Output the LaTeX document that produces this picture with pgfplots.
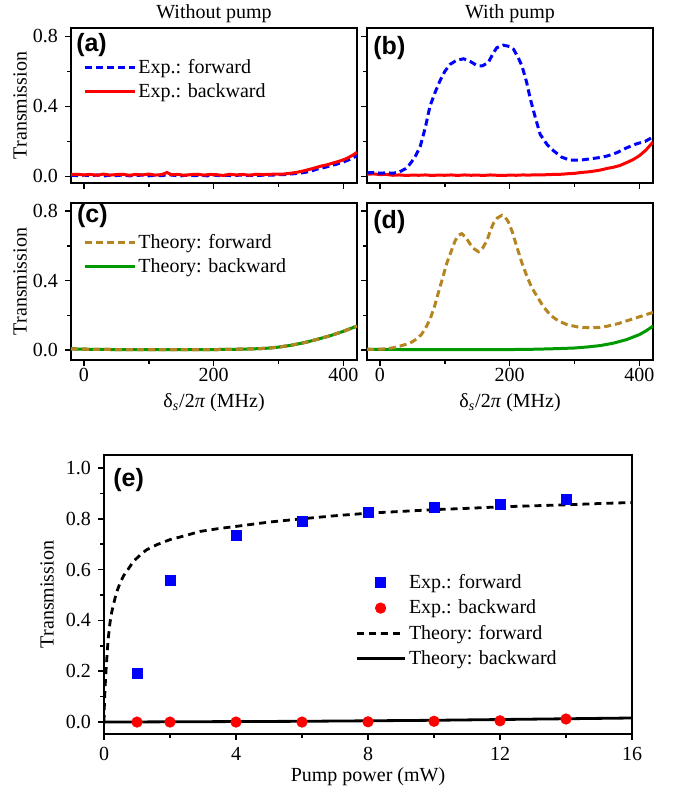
\documentclass[border=0pt]{standalone}
\usepackage{fontspec}
\setmainfont{Liberation Serif}
\setsansfont{Liberation Sans}
\usepackage{pgfplots}
\pgfplotsset{compat=1.18}
\definecolor{cblue}{rgb}{0,0,1}
\definecolor{cred}{rgb}{1,0,0}
\definecolor{cbrown}{RGB}{181,133,34}
\definecolor{cgreen}{RGB}{0,153,0}
\pgfplotsset{
  panel/.style={
    scale only axis, anchor=north west,
    axis line style={line width=0.9pt},
    tick style={line width=0.8pt, black},
    tick align=outside, xtick pos=bottom, ytick pos=left,
    major tick length=3pt, minor tick length=2pt,
    tick label style={font=\fontsize{10}{12}\selectfont},
    label style={font=\fontsize{10}{12}\selectfont},
    /pgf/number format/assume math mode=true,
    yticklabel style={/pgf/number format/.cd, fixed, fixed zerofill, precision=1},
    legend cell align=left,
    legend style={draw=none, fill=none, inner sep=0pt, font=\fontsize{10}{12}\selectfont,
      row sep=1.5pt, nodes={inner sep=1pt}},
    legend image code/.code={\draw[mark repeat=2,mark phase=2,#1] plot coordinates {(0pt,0pt) (12.5pt,0pt) (25pt,0pt)};},
  },
  small/.style={panel, width=143pt,
    xmin=-20, xmax=421, xtick={0,200,400}, minor xtick={100,300},
    ytick={0,0.4,0.8}, minor ytick={0.2,0.6},
    xticklabel style={yshift=2.5pt},
    xlabel style={at={(axis description cs:0.5,0)}, anchor=center, yshift=-21.5pt},
    ylabel style={at={(axis description cs:-0.178,0.5)}, anchor=center},
    every axis title/.style={at={(axis description cs:0.5,1)}, anchor=center, yshift=7pt, font=\fontsize{10}{12}\selectfont},
  },
  dsh/.style={line width=1.5pt, dash pattern=on 3.5pt off 2pt},
  sol/.style={line width=1.5pt},
}
\newcommand{\plab}[2]{\node[anchor=west, inner sep=0pt, font=\sffamily\bfseries\fontsize{12.5}{13}\selectfont] at (rel axis cs:#1) {#2};}
\newcommand{\dlab}{δ\textsubscript{\textit{s}}/2\textit{π} (MHz)}
\begin{document}
\begin{tikzpicture}
\useasboundingbox (0,0) rectangle (339pt,-398pt);
% (a)
\begin{axis}[small, at={(35.5pt,-14pt)}, height=77.5pt, ymin=-0.038, ymax=0.848,
  xticklabels={}, ylabel={Transmission}, title={Without pump},
  legend style={at={(axis description cs:0.042,0.815)}, anchor=north west}]
\addplot[cblue, dsh] coordinates {(-20,0.006) (-10,0.004) (0,0.007) (10,0.003) (20,0.008) (30,0.002) (40,0.006) (50,0.004) (60,0.008) (70,0.003) (80,0.005) (90,0.007) (100,0.003) (110,0.006) (120,0.004) (130,0.010) (140,0.005) (150,0.003) (160,0.007) (170,0.004) (180,0.006) (190,0.003) (200,0.007) (210,0.004) (220,0.006) (230,0.003) (240,0.007) (250,0.005) (260,0.006) (270,0.005) (280,0.008) (290,0.007) (300,0.009) (310,0.010) (320,0.014) (330,0.017) (340,0.022) (350,0.030) (360,0.042) (370,0.050) (380,0.060) (390,0.070) (400,0.082) (410,0.097) (421,0.118)};
\addlegendentry{Exp.: forward}
\addplot[cred, sol] coordinates {(-20,0.010) (-10,0.012) (0,0.008) (10,0.011) (20,0.006) (30,0.013) (40,0.007) (50,0.010) (60,0.012) (70,0.006) (80,0.011) (90,0.008) (100,0.013) (110,0.007) (120,0.010) (128,0.022) (135,0.009) (145,0.011) (155,0.006) (165,0.010) (175,0.012) (185,0.007) (195,0.011) (205,0.009) (215,0.005) (225,0.012) (235,0.008) (245,0.011) (255,0.006) (265,0.012) (275,0.010) (285,0.011) (295,0.013) (305,0.012) (315,0.016) (325,0.021) (335,0.028) (345,0.037) (355,0.047) (365,0.058) (375,0.066) (385,0.077) (395,0.088) (405,0.102) (415,0.122) (421,0.138)};
\addlegendentry{Exp.: backward}
\plab{0.017,0.89}{(a)}
\end{axis}
% (b)
\begin{axis}[small, at={(183.5pt,-14pt)}, height=77.5pt, ymin=-0.038, ymax=0.848,
  xticklabels={}, yticklabels={}, title={With pump}]
\addplot[cred, sol] coordinates {(-20,0.012) (-10,0.014) (0,0.010) (10,0.011) (20,0.006) (30,0.008) (40,0.005) (50,0.007) (60,0.006) (70,0.008) (80,0.005) (90,0.007) (100,0.006) (110,0.008) (120,0.005) (130,0.008) (140,0.006) (150,0.007) (160,0.005) (170,0.008) (180,0.006) (190,0.005) (200,0.007) (210,0.006) (220,0.008) (230,0.007) (240,0.009) (250,0.008) (260,0.010) (270,0.011) (280,0.012) (290,0.015) (300,0.017) (310,0.022) (320,0.025) (330,0.030) (340,0.036) (350,0.045) (360,0.052) (370,0.062) (380,0.078) (390,0.095) (400,0.118) (410,0.150) (421,0.196)};
\addplot[cblue, dsh] coordinates {(-20,0.020) (-10,0.022) (0,0.018) (10,0.020) (20,0.018) (30,0.025) (40,0.045) (46,0.069) (54,0.11) (62,0.17) (70,0.28) (77,0.40) (85,0.48) (93,0.55) (100,0.60) (108,0.64) (118,0.663) (129,0.672) (140,0.655) (150,0.632) (158,0.632) (167,0.65) (174,0.70) (180,0.735) (190,0.75) (200,0.742) (206,0.726) (213,0.68) (219,0.63) (226,0.54) (232,0.44) (240,0.33) (247,0.24) (258,0.18) (268,0.145) (280,0.11) (293,0.092) (310,0.093) (324,0.10) (340,0.108) (350,0.116) (365,0.135) (381,0.164) (395,0.185) (409,0.2) (421,0.225)};
\plab{0.021,0.87}{(b)}
\end{axis}
% (c)
\begin{axis}[small, at={(35.5pt,-101.5pt)}, height=78.5pt, ymin=-0.057, ymax=0.846,
  ylabel={Transmission}, xlabel={\dlab},
  legend style={at={(axis description cs:0.042,0.815)}, anchor=north west}]
\addplot[cbrown, dsh] coordinates {(-20,0.007) (0,0.005) (50,0.003) (100,0.002) (150,0.002) (200,0.003) (240,0.005) (260,0.007) (280,0.010) (300,0.017) (320,0.028) (340,0.043) (360,0.062) (380,0.083) (400,0.108) (421,0.138)};
\addlegendentry{Theory: forward}
\addplot[cgreen, sol] coordinates {(-20,0.007) (0,0.005) (50,0.003) (100,0.002) (150,0.002) (200,0.003) (240,0.005) (260,0.007) (280,0.010) (300,0.017) (320,0.028) (340,0.043) (360,0.062) (380,0.083) (400,0.108) (421,0.138)};
\addlegendentry{Theory: backward}
\addplot[cbrown, dsh, forget plot] coordinates {(-20,0.007) (0,0.005) (50,0.003) (100,0.002) (150,0.002) (200,0.003) (240,0.005) (260,0.007) (280,0.010) (300,0.017) (320,0.028) (340,0.043) (360,0.062) (380,0.083) (400,0.108) (421,0.138)};
\plab{0.02,0.92}{(c)}
\end{axis}
% (d)
\begin{axis}[small, at={(183.5pt,-101.5pt)}, height=78.5pt, ymin=-0.057, ymax=0.846,
  yticklabels={}, xlabel={\dlab}]
\addplot[cgreen, sol] coordinates {(-20,0.005) (0,0.004) (50,0.003) (100,0.002) (150,0.002) (200,0.003) (240,0.005) (270,0.008) (300,0.012) (320,0.018) (340,0.026) (360,0.040) (380,0.060) (400,0.089) (410,0.110) (421,0.138)};
\addplot[cbrown, dsh] coordinates {(-20,0.004) (0,0.005) (10,0.008) (20,0.013) (31,0.023) (40,0.033) (49,0.046) (57,0.065) (64,0.09) (70,0.125) (77,0.175) (84,0.25) (90,0.33) (97,0.42) (103,0.50) (110,0.57) (116,0.63) (121,0.66) (126,0.67) (132,0.65) (139,0.61) (146,0.58) (152,0.566) (158,0.585) (165,0.63) (170,0.685) (175,0.73) (181,0.76) (188,0.775) (193,0.765) (198,0.737) (204,0.68) (211,0.594) (219,0.5) (227,0.42) (234,0.36) (242,0.31) (252,0.25) (263,0.2) (275,0.168) (288,0.147) (305,0.133) (324,0.128) (337,0.13) (350,0.137) (368,0.153) (386,0.175) (403,0.195) (421,0.217)};
\plab{0.021,0.88}{(d)}
\end{axis}
% (e)
\begin{axis}[panel, at={(52pt,-227.5pt)}, width=264pt, height=139.5pt,
  xmin=0, xmax=16, ymin=-0.047, ymax=1.051,
  xtick={0,4,8,12,16}, minor xtick={2,6,10,14},
  ytick={0,0.2,0.4,0.6,0.8,1.0}, minor ytick={0.1,0.3,0.5,0.7,0.9},
  xlabel={Pump power (mW)}, ylabel={Transmission},
  xlabel style={at={(axis description cs:0.5,0)}, anchor=center, yshift=-21.5pt},
  ylabel style={at={(axis description cs:-0.108,0.5)}, anchor=center},
  legend image code/.code={\draw[mark repeat=2,mark phase=2,#1] plot coordinates {(0pt,0pt) (12pt,0pt) (24pt,0pt)};},
  legend style={at={(axis description cs:0.475,0.585)}, anchor=north west, row sep=1.2pt, nodes={inner sep=1.5pt}}]
\addplot[only marks, mark=square*, mark size=2.5pt, color=cblue] coordinates {(1,0.19) (2,0.556) (4,0.736) (6,0.789) (8,0.825) (10,0.846) (12,0.858) (14,0.875)};
\addlegendentry{Exp.: forward}
\addplot[only marks, mark=*, mark size=2.6pt, color=cred] coordinates {(1,0.0) (2,0.0) (4,0.0) (6,0.0) (8,0.001) (10,0.003) (12,0.005) (14,0.012)};
\addlegendentry{Exp.: backward}
\addplot[black, line width=1.4pt, dash pattern=on 3.5pt off 2.5pt] coordinates {(0,0) (0.01,0.06) (0.03,0.13) (0.06,0.2) (0.1,0.28) (0.13,0.33) (0.18,0.39) (0.23,0.43) (0.3,0.47) (0.38,0.51) (0.48,0.545) (0.59,0.575) (0.75,0.605) (0.89,0.632) (1.1,0.658) (1.29,0.678) (1.6,0.698) (2,0.718) (2.5,0.735) (2.9,0.75) (3.5,0.762) (4,0.77) (5,0.787) (6,0.80) (7,0.812) (8,0.822) (9,0.829) (10,0.836) (11,0.841) (12,0.847) (13,0.851) (14,0.855) (15,0.86) (16,0.864)};
\addlegendentry{Theory: forward}
\addplot[black, line width=1.4pt] coordinates {(0,0) (2,0.001) (4,0.002) (6,0.003) (8,0.005) (10,0.007) (12,0.01) (14,0.013) (16,0.016)};
\addlegendentry{Theory: backward}
\plab{0.017,0.91}{(e)}
\end{axis}
\end{tikzpicture}
\end{document}
